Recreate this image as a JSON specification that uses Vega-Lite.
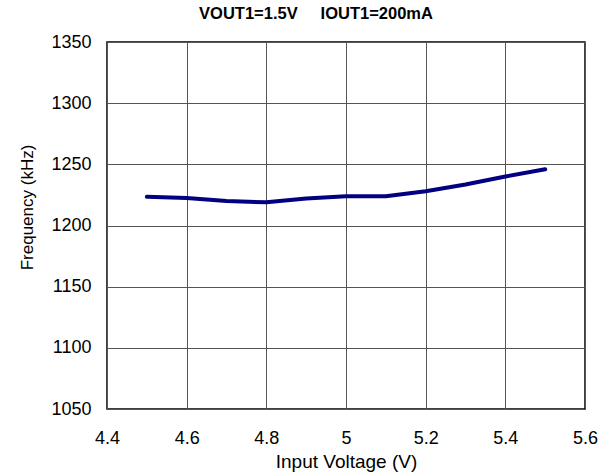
{
  "$schema": "https://vega.github.io/schema/vega-lite/v6.json",
  "autosize": {"type": "none"},
  "padding": {"left": 107, "top": 42, "right": 31, "bottom": 67},
  "width": 478,
  "height": 367,
  "background": "white",
  "config": {
    "font": "Liberation Sans",
    "view": {"stroke": "black", "strokeWidth": 1.5},
    "axis": {
      "grid": true,
      "gridColor": "#555555",
      "gridWidth": 1,
      "gridOpacity": 1,
      "domain": false,
      "ticks": false,
      "labelFlush": false,
      "labelFont": "Liberation Sans",
      "labelFontSize": 18,
      "labelColor": "black",
      "titleFont": "Liberation Sans",
      "titleFontSize": 17,
      "titleFontWeight": "normal",
      "titleColor": "black"
    }
  },
  "title": {
    "text": "VOUT1=1.5V\u00a0\u00a0\u00a0\u00a0\u00a0IOUT1=200mA",
    "font": "Liberation Sans",
    "fontSize": 16.5,
    "fontWeight": "bold",
    "color": "black",
    "offset": 11,
    "anchor": "middle",
    "dx": -30
  },
  "data": {
    "values": [
      {"vin": 4.5, "freq": 1223.5},
      {"vin": 4.6, "freq": 1222.5},
      {"vin": 4.7, "freq": 1220},
      {"vin": 4.8, "freq": 1219},
      {"vin": 4.9, "freq": 1222},
      {"vin": 5.0, "freq": 1224},
      {"vin": 5.1, "freq": 1224},
      {"vin": 5.2, "freq": 1228},
      {"vin": 5.3, "freq": 1233.5},
      {"vin": 5.4, "freq": 1240},
      {"vin": 5.5, "freq": 1246}
    ]
  },
  "mark": {"type": "line", "color": "#000080", "strokeWidth": 4, "strokeCap": "round", "strokeJoin": "round"},
  "encoding": {
    "x": {
      "field": "vin",
      "type": "quantitative",
      "scale": {"domain": [4.4, 5.6], "nice": false, "zero": false},
      "axis": {"values": [4.4, 4.6, 4.8, 5.0, 5.2, 5.4, 5.6], "labelPadding": 20, "title": "Input Voltage (V)", "titleFontSize": 19, "titlePadding": 5, "format": "~g"}
    },
    "y": {
      "field": "freq",
      "type": "quantitative",
      "scale": {"domain": [1050, 1350], "nice": false, "zero": false},
      "axis": {"values": [1050, 1100, 1150, 1200, 1250, 1300, 1350], "format": "d", "labelPadding": 16, "title": "Frequency (kHz)", "titlePadding": 14, "titleY": 165}
    }
  }
}
